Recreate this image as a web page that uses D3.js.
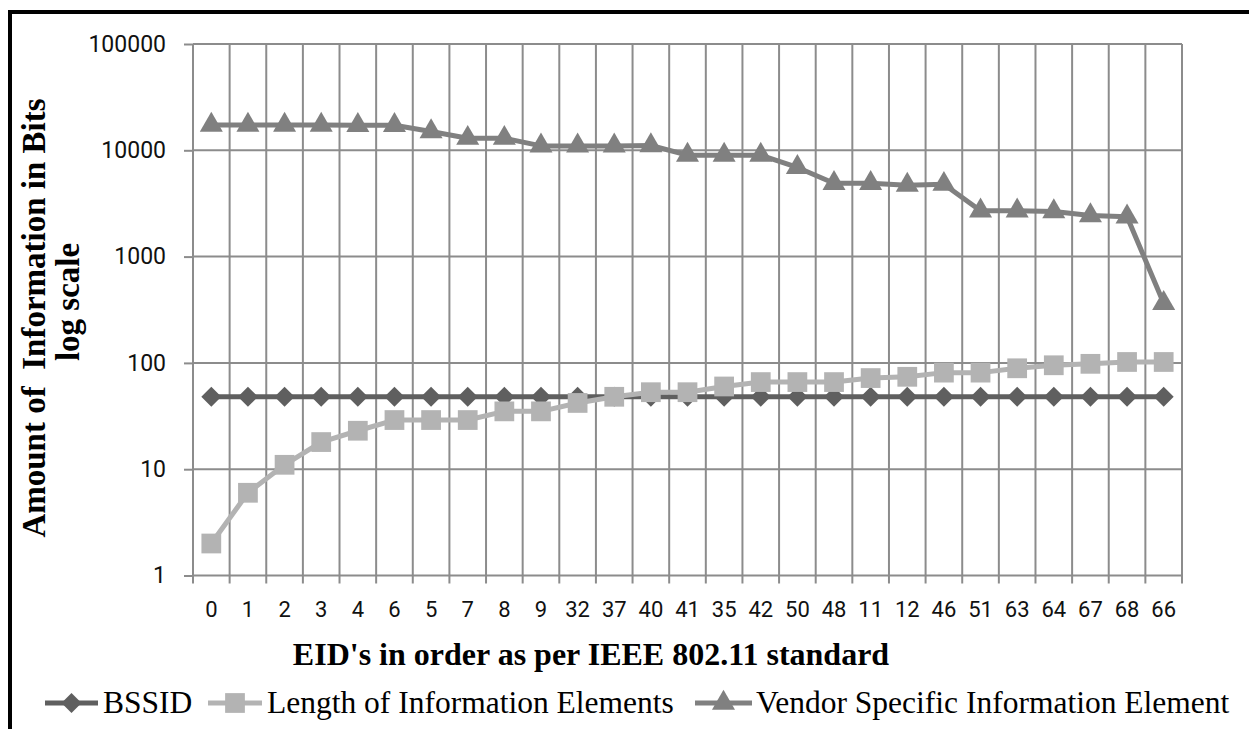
<!DOCTYPE html>
<html>
<head>
<meta charset="utf-8">
<script src="https://cdn.jsdelivr.net/npm/d3@7"></script>
<style>
  html, body { margin: 0; padding: 0; background: #fff; }
  svg { display: block; }
</style>
</head>
<body>
<svg id="chart" width="1249" height="729"></svg>
<script>
// ---- data ----
const categories = ["0","1","2","3","4","6","5","7","8","9","32","37","40","41","35","42","50","48","11","12","46","51","63","64","67","68","66"];
const bssid = [48,48,48,48,48,48,48,48,48,48,48,48,48,48,48,48,48,48,48,48,48,48,48,48,48,48,48];
const lengthIE = [2,6,11,18,23,29,29,29,35,35,42,48,53,53,60,66,66,66,72,74,81,81,89,95,98,102,102];
const vendorIE = [17300,17300,17300,17300,17200,17200,15000,13000,13000,11000,11000,11000,11100,9000,9000,9000,6900,4900,4900,4700,4800,2700,2700,2650,2430,2370,364];
const yTicks = [1,10,100,1000,10000,100000];
const seriesNames = ["BSSID","Length of Information Elements","Vendor Specific Information Element"];
const seriesColors = ["#5f5f5f","#b3b3b3","#808080"];
const seriesSymbols = ["diamond","square","triangle"];

(function () {
const svg = d3.select("#chart");
const pL = 193, pR = 1182, pT = 44, pB = 575.5;

const x = d3.scaleBand().domain(categories).range([pL, pR]).paddingInner(0).paddingOuter(0);
const y = d3.scaleLog().domain([1, 100000]).range([pB, pT]);

// frame
svg.append("line").attr("x1", 10).attr("x2", 10).attr("y1", 10).attr("y2", 729).attr("stroke", "#000").attr("stroke-width", 4);
svg.append("line").attr("x1", 8).attr("x2", 1249).attr("y1", 12).attr("y2", 12).attr("stroke", "#000").attr("stroke-width", 4);

const gridColor = "#8c8c8c";
svg.append("g").selectAll("line").data(yTicks).join("line")
  .attr("x1", pL).attr("x2", pR)
  .attr("y1", d => y(d)).attr("y2", d => y(d))
  .attr("stroke", gridColor).attr("stroke-width", 2);
const bounds = categories.map(c => x(c)).concat([x(categories[categories.length-1]) + x.bandwidth()]);
svg.append("g").selectAll("line").data(bounds).join("line")
  .attr("x1", d => d).attr("x2", d => d)
  .attr("y1", pT).attr("y2", pB + 8)
  .attr("stroke", gridColor).attr("stroke-width", 2);

// y axis
const yAxis = d3.axisLeft(y).tickValues(yTicks).tickFormat(d3.format("d")).tickSize(9).tickPadding(18);
const gy = svg.append("g").attr("transform", `translate(${pL},0)`).call(yAxis);
gy.select(".domain").remove();
gy.selectAll(".tick line").attr("stroke", gridColor).attr("stroke-width", 2);
gy.selectAll(".tick text").attr("font-family", "Roboto, sans-serif").attr("font-size", 23).attr("fill", "#111");

// x axis
const xAxis = d3.axisBottom(x).tickSize(0).tickPadding(26);
const gx = svg.append("g").attr("transform", `translate(0,${pB})`).call(xAxis);
gx.select(".domain").remove();
gx.selectAll(".tick text").attr("font-family", "Roboto, sans-serif").attr("font-size", 22).attr("fill", "#111");

// axis titles
svg.append("text").attr("x", 591).attr("y", 665).attr("text-anchor", "middle")
  .attr("font-family", "'Liberation Serif', 'Times New Roman', serif").attr("font-weight", "bold").attr("font-size", 32)
  .text("EID's in order as per IEEE 802.11 standard");
const yt = svg.append("g").attr("transform", "translate(45,318) rotate(-90)")
  .attr("font-family", "'Liberation Serif', 'Times New Roman', serif").attr("font-weight", "bold").attr("font-size", 33);
yt.append("text").attr("x", 0).attr("y", 0).attr("text-anchor", "middle").attr("xml:space", "preserve").text("Amount of  Information in Bits");
yt.append("text").attr("x", 16).attr("y", 34).attr("text-anchor", "middle").text("log scale");

// series
const allSeries = [bssid, lengthIE, vendorIE];
const symbolType = { diamond: d3.symbolSquare, square: d3.symbolSquare, triangle: d3.symbolTriangle };
const symbolSize = { diamond: 200, square: 390, triangle: 230 };
const symbolRot = { diamond: 45, square: 0, triangle: 0 };
const cx = c => x(c) + x.bandwidth() / 2;

allSeries.forEach((vals, si) => {
  const pts = categories.map((c, i) => [cx(c), y(vals[i])]);
  svg.append("path").attr("d", d3.line()(pts)).attr("fill", "none")
    .attr("stroke", seriesColors[si]).attr("stroke-width", 5).attr("stroke-linejoin", "round");
  const s = seriesSymbols[si];
  const sym = d3.symbol().type(symbolType[s]).size(symbolSize[s]);
  svg.append("g").selectAll("path").data(pts).join("path")
    .attr("transform", d => `translate(${d[0]},${d[1]}) rotate(${symbolRot[s]})`)
    .attr("d", sym).attr("fill", seriesColors[si]);
});

// legend
const legendItems = [
  { x0: 45, x1: 98, tx: 103 },
  { x0: 208, x1: 262, tx: 267 },
  { x0: 695, x1: 752, tx: 756 }
];
const ly = 703;
legendItems.forEach((it, si) => {
  svg.append("line").attr("x1", it.x0).attr("x2", it.x1).attr("y1", ly).attr("y2", ly)
    .attr("stroke", seriesColors[si]).attr("stroke-width", 5);
  const s = seriesSymbols[si];
  const sym = d3.symbol().type(symbolType[s]).size(symbolSize[s]);
  svg.append("path").attr("transform", `translate(${(it.x0 + it.x1) / 2},${ly}) rotate(${symbolRot[s]})`).attr("d", sym).attr("fill", seriesColors[si]);
  svg.append("text").attr("x", it.tx).attr("y", 713)
    .attr("font-family", "'Liberation Serif', 'Times New Roman', serif").attr("font-size", 31.5).attr("fill", "#000")
    .text(seriesNames[si]);
});
})();
</script>
</body>
</html>
